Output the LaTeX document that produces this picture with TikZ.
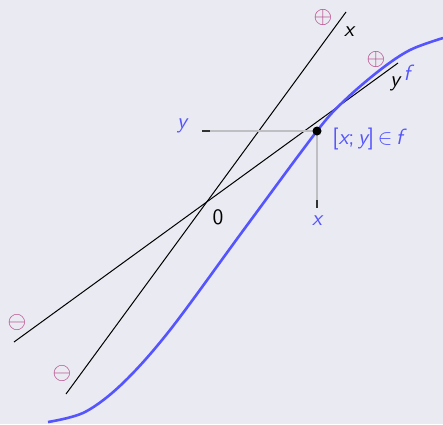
\documentclass[tikz,border=0pt]{standalone}
\usepackage{tikz}
\usetikzlibrary{calc}
\definecolor{bgc}{RGB}{234,234,242}
\definecolor{fblue}{RGB}{85,85,255}
\definecolor{sgn}{RGB}{180,60,130}
\definecolor{guide}{RGB}{190,190,195}
\begin{document}
\begin{tikzpicture}[x=0.5pt,y=-0.5pt,font=\sffamily\fontsize{11}{13}\selectfont,
  lbl/.style={inner sep=0pt},
  bluelbl/.style={lbl,text=fblue},
  sgnlbl/.style={lbl,text=sgn,font=\fontsize{13}{15}\selectfont},
  thin line/.style={black,line width=0.5pt},
  guideline/.style={guide,line width=0.8pt},
  tick/.style={black!80,line width=1pt}]
\fill[bgc] (0,0) rectangle (443,424);
\useasboundingbox (0,0) rectangle (443,424);
% points
\coordinate (O) at (205,203);
\coordinate (xa) at (66,394);
\coordinate (xb) at (346,12);
\coordinate (ya) at (14,342);
\coordinate (yb) at (398,63);
\coordinate (P) at (317,131);
\coordinate (ytick) at (206,131);
\coordinate (xtick) at (317,204);
% lines
\draw[thin line] (xa) -- (xb);
\draw[thin line] (ya) -- (yb);
% guides
\draw[guideline] (ytick) -- (P);
\draw[guideline] (xtick) -- (P);
\draw[tick] ($(ytick)+(-4,0)$) -- ($(ytick)+(4,0)$);
\draw[tick] ($(xtick)+(0,-4)$) -- ($(xtick)+(0,4)$);
% curve
\draw[fblue,line width=1.3pt] plot[smooth,tension=0.55] coordinates {(48,422) (85,412) (123,383) (170,330) (245,228) (317,131) (345,100) (380,70) (410,50) (443,38)};
\fill[black] (P) circle (4.5);
% labels
\node[lbl] (zero) at (218,217) {0};
\node[bluelbl] (ylab) at (182,126) {\itshape y};
\node[bluelbl] (xlab) at (317,221) {\itshape x};
\node[bluelbl,anchor=west] (pt) at (332,139) {[\itshape x\upshape;\,\itshape y\upshape]$\,\in\,$\itshape f};
\node[lbl] (xline) at (349,32) {\itshape x};
\node[lbl] (yline) at (395,84) {\itshape y};
\node[bluelbl] (flab) at (407,73) {\itshape f};
\node[sgnlbl] (p1) at (323,17) {$\oplus$};
\node[sgnlbl] (p2) at (376,59) {$\oplus$};
\node[sgnlbl] (m1) at (17,322) {$\ominus$};
\node[sgnlbl] (m2) at (62,373) {$\ominus$};
\end{tikzpicture}
\end{document}
